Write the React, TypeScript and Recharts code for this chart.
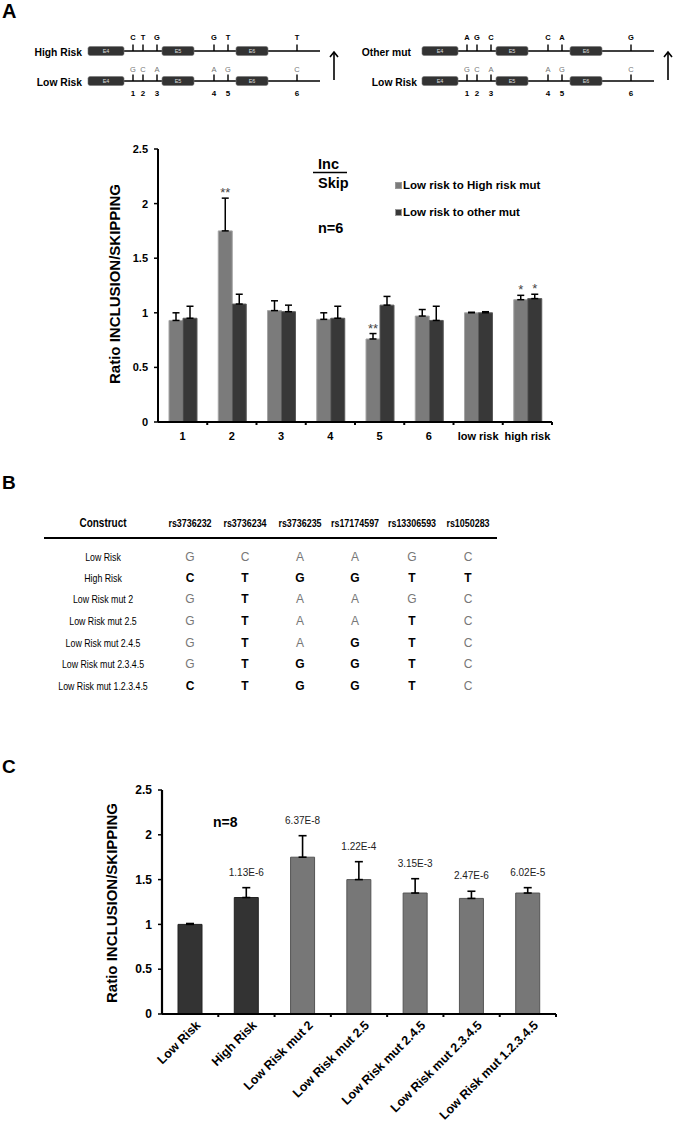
import React from 'react';
import { BarChart, Bar, XAxis, YAxis, ErrorBar, LabelList, Legend, Cell } from 'recharts';

const FONT = "'Liberation Sans', Arial, Helvetica, sans-serif";

// ---- panel A, exon diagram
const snpNumbers = ['1', '2', '3', '4', '5', '6'];
const lowRiskAlleles = ['G', 'C', 'A', 'A', 'G', 'C'];
const highRiskAlleles = ['C', 'T', 'G', 'G', 'T', 'T'];
const otherMutAlleles = ['A', 'G', 'C', 'C', 'A', 'G'];

// ---- panel A, bar chart
const snpCategories = ['1', '2', '3', '4', '5', '6', 'low risk', 'high risk'];
const toHighRiskRatio = [0.93, 1.75, 1.02, 0.94, 0.76, 0.97, 1.0, 1.12];
const toHighRiskError = [0.07, 0.3, 0.09, 0.06, 0.05, 0.06, 0.005, 0.04];
const toOtherRatio = [0.95, 1.08, 1.01, 0.95, 1.07, 0.93, 1.0, 1.13];
const toOtherError = [0.11, 0.09, 0.06, 0.11, 0.08, 0.13, 0.01, 0.04];
const toHighRiskStars = ['', '**', '', '', '**', '', '', '*'];
const toOtherStars = ['', '', '', '', '', '', '', '*'];
const ratioTicks = [0, 0.5, 1, 1.5, 2, 2.5];

// ---- panel B, table
const snpIds = ['rs3736232', 'rs3736234', 'rs3736235', 'rs17174597', 'rs13306593', 'rs1050283'];
const constructNames = [
  'Low Risk',
  'High Risk',
  'Low Risk mut 2',
  'Low Risk mut 2.5',
  'Low Risk mut 2.4.5',
  'Low Risk mut 2.3.4.5',
  'Low Risk mut 1.2.3.4.5',
];
const constructAlleles = [
  ['G', 'C', 'A', 'A', 'G', 'C'],
  ['C', 'T', 'G', 'G', 'T', 'T'],
  ['G', 'T', 'A', 'A', 'G', 'C'],
  ['G', 'T', 'A', 'A', 'T', 'C'],
  ['G', 'T', 'A', 'G', 'T', 'C'],
  ['G', 'T', 'G', 'G', 'T', 'C'],
  ['C', 'T', 'G', 'G', 'T', 'C'],
];

// ---- panel C, bar chart
const constructRatio = [1.0, 1.3, 1.75, 1.5, 1.35, 1.29, 1.35];
const constructError = [0.01, 0.11, 0.24, 0.2, 0.16, 0.08, 0.06];
const constructPValue = ['', '1.13E-6', '6.37E-8', '1.22E-4', '3.15E-3', '2.47E-6', '6.02E-5'];
const constructGroup = ['ref', 'ref', 'mut', 'mut', 'mut', 'mut', 'mut'];

const chartAData = snpCategories.map((name, i) => ({
  name,
  highRisk: toHighRiskRatio[i],
  highRiskErr: [0, toHighRiskError[i]],
  other: toOtherRatio[i],
  otherErr: [0, toOtherError[i]],
}));

const chartCData = constructNames.map((name, i) => ({
  name,
  ratio: constructRatio[i],
  ratioErr: [0, constructError[i]],
}));

const GREY = '#7b7b7b';
const DARK = '#383838';

// category label plus a small tick mark at the right edge of the band (Excel style)
const bandTick = (rotate: boolean, fontSize: number) => (props: any) => {
  const { x, y, payload, width, visibleTicksCount } = props;
  const half = payload?.offset || (width && visibleTicksCount ? width / visibleTicksCount / 2 : 0);
  const edge = x + half;
  const label = payload.value;
  const mark = <line x1={edge} x2={edge} y1={y} y2={y + 3} stroke="#000" strokeWidth={2} />;
  if (rotate) {
    const tx = x + 11;
    const ty = y + 12;
    return (
      <g>
        {mark}
        <text x={tx} y={ty} transform={`rotate(-45, ${tx}, ${ty})`} textAnchor="end"
          fontFamily={FONT} fontWeight="bold" fontSize={fontSize} fill="#000">{label}</text>
      </g>
    );
  }
  return (
    <g>
      {mark}
      <text x={x} y={y + 18} textAnchor="middle" fontFamily={FONT} fontWeight="bold" fontSize={fontSize} fill="#000">
        {label}
      </text>
    </g>
  );
};

// text placed over the top of the error bar
const aboveError = (texts: string[], ratios: number[], errors: number[], lift: number, style: any) => (props: any) => {
  const vb = props.viewBox ?? props;
  const i = props.index;
  const text = texts[i];
  if (!text || !vb) return null;
  const { x, y, width, height } = vb;
  const errTop = y - errors[i] * (height / ratios[i]);
  return (
    <text x={x + width / 2} y={errTop - lift} textAnchor="middle" fontFamily={FONT} {...style}>{text}</text>
  );
};

const exons = [
  { name: 'E4', x: 88, w: 36 },
  { name: 'E5', x: 162, w: 32 },
  { name: 'E6', x: 236, w: 32 },
];
const snpX = [133, 143, 157, 214, 228, 297];

function GeneRow({ dx, y, label, labelEnd, alleles, mutant, numbers }: any) {
  return (
    <g>
      <text x={labelEnd + dx} y={y + 4.5} textAnchor="end" fontFamily={FONT} fontWeight="bold" fontSize={10.3}>{label}</text>
      <line x1={88 + dx} x2={320 + dx} y1={y} y2={y} stroke="#000" strokeWidth={1.6} />
      {exons.map((e) => (
        <g key={e.name}>
          <rect x={e.x + dx} y={y - 4.5} width={e.w} height={9} rx={2} fill="#333" stroke="#777" strokeWidth={0.6} />
          <text x={e.x + dx + e.w / 2} y={y + 2} textAnchor="middle" fontFamily={FONT} fontSize={5.5} fill="#ddd">{e.name}</text>
        </g>
      ))}
      {snpX.map((sx, i) => (
        <g key={i}>
          <line x1={sx + dx} x2={sx + dx} y1={y - 6.5} y2={y} stroke="#000" strokeWidth={1.4} />
          <text x={sx + dx} y={mutant ? y - 11.5 : y - 9.5} textAnchor="middle" fontFamily={FONT}
            fontWeight={mutant ? 'bold' : 'normal'} fontSize={7.5} fill={mutant ? '#000' : '#777'}>{alleles[i]}</text>
          {numbers && (
            <text x={sx + dx} y={y + 15} textAnchor="middle" fontFamily={FONT} fontWeight="bold" fontSize={8} fill="#000">{snpNumbers[i]}</text>
          )}
        </g>
      ))}
    </g>
  );
}

function Diagram({ dx, topLabel, topLabelEnd, topAlleles, lowLabelEnd }: any) {
  const ax = 335 + dx - 1;
  return (
    <g>
      <GeneRow dx={dx} y={51} label={topLabel} labelEnd={topLabelEnd} alleles={topAlleles} mutant numbers={false} />
      <GeneRow dx={dx} y={81} label="Low Risk" labelEnd={lowLabelEnd} alleles={lowRiskAlleles} mutant={false} numbers />
      <line x1={ax} x2={ax} y1={80} y2={52} stroke="#000" strokeWidth={1.6} />
      <polyline points={`${ax - 4},57 ${ax},52 ${ax + 4},57`} fill="none" stroke="#000" strokeWidth={1.6} />
    </g>
  );
}

const tableCols = [190, 245, 300, 355, 412, 468];
const tableRows = [557, 578, 599, 621, 643, 664, 686];

function Overlay() {
  return (
    <svg width={675} height={1122} style={{ position: 'absolute', left: 0, top: 0 }}>
      <text x={2} y={18} fontFamily={FONT} fontWeight="bold" fontSize={20}>A</text>
      <text x={2} y={489} fontFamily={FONT} fontWeight="bold" fontSize={19}>B</text>
      <text x={2} y={773} fontFamily={FONT} fontWeight="bold" fontSize={19}>C</text>

      <Diagram dx={0} topLabel="High Risk" topLabelEnd={82} topAlleles={highRiskAlleles} lowLabelEnd={82} />
      <Diagram dx={334} topLabel="Other mut" topLabelEnd={77} topAlleles={otherMutAlleles} lowLabelEnd={83} />

      {/* panel A annotations */}
      <text transform="translate(119.5, 284) rotate(-90)" textAnchor="middle" fontFamily={FONT} fontWeight="bold" fontSize={15}>
        Ratio INCLUSION/SKIPPING
      </text>
      <text x={318} y={169} fontFamily={FONT} fontWeight="bold" fontSize={14.5}>Inc</text>
      <line x1={313} x2={347} y1={172.5} y2={172.5} stroke="#000" strokeWidth={1.5} />
      <text x={318} y={187.5} fontFamily={FONT} fontWeight="bold" fontSize={14.5}>Skip</text>
      <text x={318} y={233} fontFamily={FONT} fontWeight="bold" fontSize={14.5}>n=6</text>

      {/* panel B table */}
      <g transform="translate(103, 527) scale(0.8, 1)">
        <text x={0} y={0} textAnchor="middle" fontFamily={FONT} fontWeight="bold" fontSize={12.5}>Construct</text>
      </g>
      {snpIds.map((id, c) => (
        <g key={id} transform={`translate(${tableCols[c]}, 527) scale(0.85, 1)`}>
          <text x={0} y={0} textAnchor="middle" fontFamily={FONT} fontWeight="bold" fontSize={10.5}>{id}</text>
        </g>
      ))}
      <line x1={44} x2={497} y1={538} y2={538} stroke="#000" strokeWidth={2.2} />
      {constructNames.map((name, r) => (
        <g key={name}>
          <g transform={`translate(103, ${tableRows[r] + 4})`}>
            <text x={0} y={0} transform="scale(0.8, 1)" textAnchor="middle" fontFamily={FONT} fontSize={11}>{name}</text>
          </g>
          {constructAlleles[r].map((a, c) => {
            const changed = a !== constructAlleles[0][c];
            return (
              <text key={c} x={tableCols[c]} y={tableRows[r] + 4.3} textAnchor="middle" fontFamily={FONT}
                fontWeight={changed ? 'bold' : 'normal'} fill={changed ? '#000' : '#777'} fontSize={12}>{a}</text>
            );
          })}
        </g>
      ))}

      {/* panel C annotations */}
      <text transform="translate(117, 903) rotate(-90)" textAnchor="middle" fontFamily={FONT} fontWeight="bold" fontSize={15}>
        Ratio INCLUSION/SKIPPING
      </text>
      <text x={213} y={827} fontFamily={FONT} fontWeight="bold" fontSize={14}>n=8</text>
    </svg>
  );
}

const legendContent = (props: any) => (
  <div>
    {(props.payload || []).map((e: any) => (
      <div key={e.value} style={{ display: 'flex', alignItems: 'center', height: 14, marginBottom: 13, fontFamily: FONT, fontWeight: 'bold', fontSize: 11.5, color: '#000', whiteSpace: 'nowrap' }}>
        <span style={{ display: 'inline-block', width: 7, height: 7, boxSizing: 'border-box', background: e.color, border: '1px solid #999', marginRight: 1 }} />
        {e.value}
      </div>
    ))}
  </div>
);

const yTickStyle = (size: number) => ({ fill: '#000', fontSize: size, fontWeight: 'bold', fontFamily: FONT });

function ChartA() {
  return (
    <BarChart width={675} height={320} data={chartAData} margin={{ top: 19, right: 123, bottom: 0, left: 118 }} barSize={14} barGap={0}>
      <XAxis dataKey="name" interval={0} tickLine={false} tickSize={0} tickMargin={0}
        tick={bandTick(false, 11)} axisLine={{ stroke: '#000', strokeWidth: 2 }} height={28} />
      <YAxis domain={[0, 2.5]} ticks={ratioTicks} interval={0} width={40} tickSize={4} tickMargin={6}
        tick={yTickStyle(11)} tickLine={{ stroke: '#000', strokeWidth: 1.5 }} axisLine={{ stroke: '#000', strokeWidth: 2 }} />
      <Legend layout="vertical" align="center" verticalAlign="middle" content={legendContent}
        wrapperStyle={{ left: 395, top: 48, width: 200 }} />
      <Bar dataKey="highRisk" name="Low risk to High risk mut" fill={GREY} stroke="#a5a5a5" strokeWidth={1} isAnimationActive={false}>
        <ErrorBar dataKey="highRiskErr" width={3.5} strokeWidth={1.5} stroke="#000" isAnimationActive={false} />
        <LabelList content={aboveError(toHighRiskStars, toHighRiskRatio, toHighRiskError, 1, { fontSize: 13, fill: '#444' })} />
      </Bar>
      <Bar dataKey="other" name="Low risk to other mut" fill={DARK} stroke="#5a5a5a" strokeWidth={1} isAnimationActive={false}>
        <ErrorBar dataKey="otherErr" width={3.5} strokeWidth={1.5} stroke="#000" isAnimationActive={false} />
        <LabelList content={aboveError(toOtherStars, toOtherRatio, toOtherError, 1, { fontSize: 13, fill: '#444' })} />
      </Bar>
    </BarChart>
  );
}

function ChartC() {
  return (
    <BarChart width={675} height={362} data={chartCData} margin={{ top: 30, right: 119, bottom: 0, left: 122 }} barSize={24}>
      <XAxis dataKey="name" interval={0} tickLine={false} tickSize={0} tickMargin={0}
        tick={bandTick(true, 12.5)} axisLine={{ stroke: '#000', strokeWidth: 2.2 }} height={108} />
      <YAxis domain={[0, 2.5]} ticks={ratioTicks} interval={0} width={40} tickSize={4} tickMargin={6}
        tick={yTickStyle(12)} tickLine={{ stroke: '#000', strokeWidth: 1.5 }} axisLine={{ stroke: '#000', strokeWidth: 2.2 }} />
      <Bar dataKey="ratio" isAnimationActive={false} strokeWidth={1}>
        {chartCData.map((d, i) => (
          <Cell key={d.name} fill={constructGroup[i] === 'ref' ? '#333' : '#777'} stroke={constructGroup[i] === 'ref' ? '#222' : '#555'} />
        ))}
        <ErrorBar dataKey="ratioErr" width={4} strokeWidth={1.6} stroke="#000" isAnimationActive={false} />
        <LabelList content={aboveError(constructPValue, constructRatio, constructError, 12, { fontSize: 10, fill: '#222' })} />
      </Bar>
    </BarChart>
  );
}

export default function App() {
  return (
    <div style={{ position: 'absolute', left: 0, top: 0, width: 675, height: 1122, background: '#fff', overflow: 'hidden' }}>
      <Overlay />
      <div style={{ position: 'absolute', left: 0, top: 130 }}>
        <ChartA />
      </div>
      <div style={{ position: 'absolute', left: 0, top: 760 }}>
        <ChartC />
      </div>
    </div>
  );
}
